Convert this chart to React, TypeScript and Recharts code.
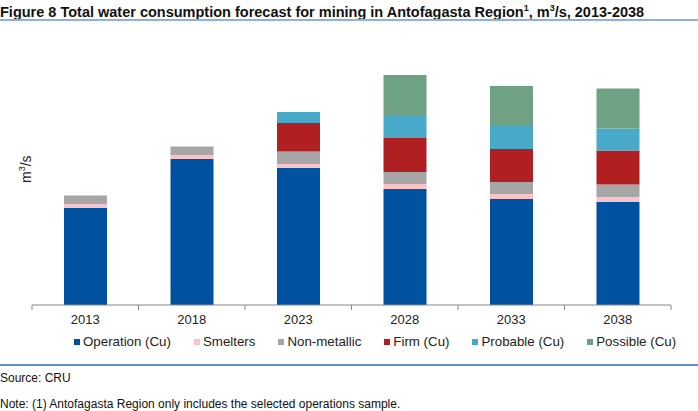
import { Bar, BarChart, XAxis, YAxis } from "recharts";

const years = ["2013", "2018", "2023", "2028", "2033", "2038"];
const operation = [9.7, 14.6, 13.7, 11.6, 10.6, 10.3];
const smelters = [0.4, 0.4, 0.4, 0.5, 0.5, 0.5];
const nonMetallic = [0.85, 0.85, 1.25, 1.2, 1.2, 1.25];
const firm = [0, 0, 2.85, 3.4, 3.3, 3.4];
const probable = [0, 0, 1.1, 2.3, 2.3, 2.2];
const possible = [0, 0, 0, 4.0, 4.0, 4.0];

const series = [
  { key: "operation", name: "Operation (Cu)", color: "#0051a0", values: operation },
  { key: "smelters", name: "Smelters", color: "#f8c4c8", values: smelters },
  { key: "nonMetallic", name: "Non-metallic", color: "#a6a6a6", values: nonMetallic },
  { key: "firm", name: "Firm (Cu)", color: "#b01f22", values: firm },
  { key: "probable", name: "Probable (Cu)", color: "#48aac8", values: probable },
  { key: "possible", name: "Possible (Cu)", color: "#6fa285", values: possible },
];

const data = years.map((year, i) => {
  const row: Record<string, string | number> = { year };
  for (const s of series) row[s.key] = s.values[i];
  return row;
});

const FONT = "Arial, 'Liberation Sans', sans-serif";
const AXIS = "#868686";

function YearTick(props: any) {
  const { x, y, payload, index, width, visibleTicksCount } = props;
  const half = (width ?? 639) / (visibleTicksCount || years.length) / 2;
  const last = index === (visibleTicksCount || years.length) - 1;
  return (
    <g>
      <line x1={x - half} x2={x - half} y1={y} y2={y + 5} stroke={AXIS} />
      {last && <line x1={x + half} x2={x + half} y1={y} y2={y + 5} stroke={AXIS} />}
      <text
        x={x}
        y={y + 16}
        textAnchor="middle"
        dominantBaseline="middle"
        fontSize={13}
        fontFamily={FONT}
        fill="#222"
      >
        {payload.value}
      </text>
    </g>
  );
}

export default function App() {
  return (
    <div
      style={{
        position: "absolute",
        left: 0,
        top: 0,
        width: 698,
        height: 411,
        background: "#fff",
        fontFamily: FONT,
        color: "#111",
        overflow: "hidden",
      }}
    >
      <div
        style={{
          position: "absolute",
          left: 0,
          top: -1,
          fontSize: 14.5,
          fontWeight: "bold",
          lineHeight: "18px",
          whiteSpace: "nowrap",
        }}
      >
        Figure 8 Total water consumption forecast for mining in Antofagasta Region
        <sup style={{ fontSize: 9 }}>1</sup>, m<sup style={{ fontSize: 9 }}>3</sup>/s, 2013-2038
      </div>
      <div
        style={{
          position: "absolute",
          left: 0,
          top: 19,
          width: 698,
          height: 2,
          background: "#8fb0d8",
        }}
      />

      <div style={{ position: "absolute", left: 0, top: 0 }}>
        <BarChart
          width={698}
          height={335}
          data={data}
          margin={{ top: 55, right: 27, bottom: 0, left: 32 }}
        >
          <YAxis hide domain={[0, 25]} />
          <XAxis
            dataKey="year"
            height={30}
            stroke={AXIS}
            tickLine={false}
            tickSize={0}
            tickMargin={0}
            tick={<YearTick />}
            interval={0}
          />
          {series.map((s) => (
            <Bar
              key={s.key}
              dataKey={s.key}
              name={s.name}
              stackId="total"
              fill={s.color}
              barSize={43}
              isAnimationActive={false}
            />
          ))}
        </BarChart>
      </div>

      <div
        style={{
          position: "absolute",
          left: 14,
          top: 173,
          width: 20,
          fontSize: 14,
          lineHeight: "14px",
          transform: "translate(-50%, -50%) rotate(-90deg)",
          whiteSpace: "nowrap",
          textAlign: "center",
          color: "#222",
          marginLeft: 10,
        }}
      >
        m<sup style={{ fontSize: 9 }}>3</sup>/s
      </div>

      <div
        style={{
          position: "absolute",
          left: 74,
          top: 334,
          display: "flex",
          alignItems: "center",
          gap: 23,
          fontSize: 13.3,
          lineHeight: "16px",
          whiteSpace: "nowrap",
          color: "#222",
        }}
      >
        {series.map((s) => (
          <div key={s.key} style={{ display: "flex", alignItems: "center" }}>
            <span
              style={{
                display: "inline-block",
                width: 6,
                height: 6,
                background: s.color,
                marginRight: 3,
              }}
            />
            {s.name}
          </div>
        ))}
      </div>

      <div
        style={{
          position: "absolute",
          left: 0,
          top: 364,
          width: 698,
          height: 1.5,
          background: "#5b8fd0",
        }}
      />
      <div style={{ position: "absolute", left: 0, top: 371, fontSize: 12, lineHeight: "14px" }}>
        Source: CRU
      </div>
      <div style={{ position: "absolute", left: 0, top: 397, fontSize: 12, lineHeight: "14px" }}>
        Note: (1) Antofagasta Region only includes the selected operations sample.
      </div>
    </div>
  );
}
